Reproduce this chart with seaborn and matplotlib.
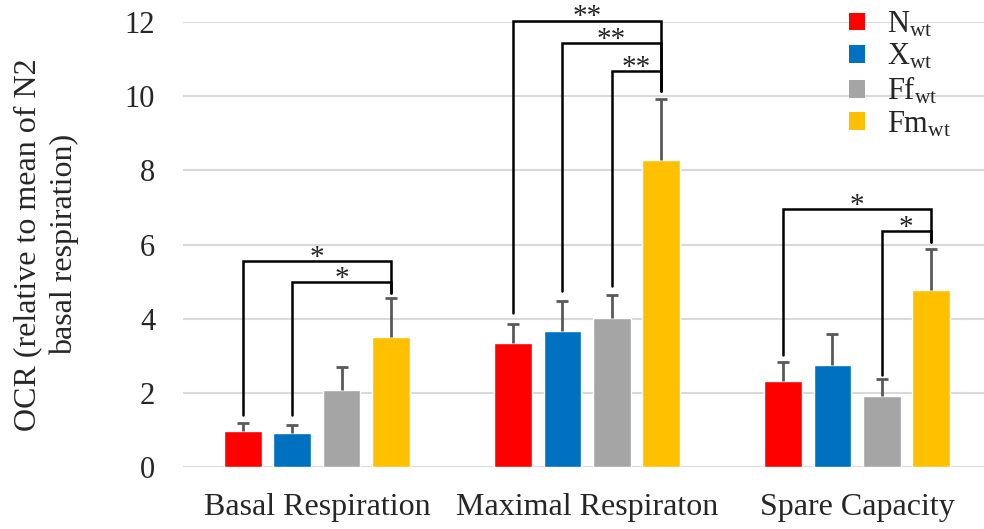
import matplotlib
matplotlib.use("Agg")
import matplotlib.pyplot as plt
import seaborn as sns
import pandas as pd
import numpy as np
from matplotlib.patches import Patch

categories = ["Basal Respiration", "Maximal Respiraton", "Spare Capacity"]
groups = ["N", "X", "Ff", "Fm"]
group_labels = [r"N$_\mathrm{wt}$", r"X$_\mathrm{wt}$", r"Ff$_\mathrm{wt}$", r"Fm$_\mathrm{wt}$"]
colors = ["#ff0000", "#0070c0", "#a5a5a5", "#ffc000"]

N_vals = [0.98, 3.34, 2.33]
X_vals = [0.92, 3.67, 2.74]
Ff_vals = [2.07, 4.01, 1.91]
Fm_vals = [3.51, 8.27, 4.76]

N_err = [0.20, 0.52, 0.49]
X_err = [0.22, 0.81, 0.86]
Ff_err = [0.62, 0.63, 0.47]
Fm_err = [1.06, 1.65, 1.13]

# significance brackets
br_cat = [0, 0, 1, 1, 1, 2, 2]
br_left = [0, 1, 0, 1, 2, 0, 2]
br_height = [5.56, 4.98, 12.04, 11.43, 10.67, 6.95, 6.36]
br_left_bottom = [1.39, 1.41, 4.14, 4.74, 4.87, 3.01, 2.49]
br_right_bottom = [4.70, 4.70, 10.15, 10.15, 10.15, 6.07, 6.07]
br_label = ["*", "*", "**", "**", "**", "*", "*"]

yticks = [0, 2, 4, 6, 8, 10, 12]

vals = [N_vals, X_vals, Ff_vals, Fm_vals]
errs = [N_err, X_err, Ff_err, Fm_err]
rows = []
for g, v in zip(groups, vals):
    for c, y in zip(categories, v):
        rows.append({"cat": c, "group": g, "val": y})
df = pd.DataFrame(rows)

sns.set_style("white")
plt.rcParams["font.family"] = ["Liberation Serif", "DejaVu Serif"]
plt.rcParams["mathtext.fontset"] = "custom"
plt.rcParams["mathtext.rm"] = "Liberation Serif"
plt.rcParams["mathtext.it"] = "Liberation Serif:italic"

fig = plt.figure(figsize=(9.84, 5.29), dpi=100)
ax = fig.add_axes([183 / 984, 62 / 529, 1 - 183 / 984, 445 / 529])

sns.barplot(data=df, x="cat", y="val", hue="group", palette=colors,
            width=0.73, gap=0.235, ax=ax, legend=False, errorbar=None,
            saturation=1, zorder=3)

bar_conts = list(ax.containers)
centers = {}
for gi, cont in enumerate(bar_conts):
    for ci, bar in enumerate(cont.patches):
        cx = bar.get_x() + bar.get_width() / 2
        top = bar.get_height()
        centers[(ci, gi)] = cx
        eb = ax.errorbar(cx, top, yerr=[[0], [errs[gi][ci]]],
                         fmt="none", ecolor="#595959", elinewidth=2,
                         capsize=4.5, capthick=2, zorder=4)
        for cap in eb[1]:
            if np.allclose(cap.get_ydata(), top):
                cap.set_visible(False)

for c, l, h, lb, rb, lab in zip(br_cat, br_left, br_height, br_left_bottom, br_right_bottom, br_label):
    x1 = centers[(c, l)]
    x2 = centers[(c, 3)]
    ax.plot([x1, x1, x2, x2], [lb, h, h, rb], color="black", lw=1.8,
            clip_on=False, zorder=5, solid_joinstyle="miter")
    ax.text((x1 + x2) / 2, h - 0.1, lab, ha="center", va="baseline",
            fontsize=21, clip_on=False, color="#222222")

ax.set_xlim(-0.496, 2.47)
ax.set_ylim(0, 12)
ax.set_yticks(yticks)
ax.set_yticklabels([str(t) for t in yticks])
ax.yaxis.grid(True, color="#d9d9d9", lw=1.5, zorder=0)
ax.set_axisbelow(True)
for s in ax.spines.values():
    s.set_visible(False)
ax.tick_params(axis="y", length=0, pad=20, labelsize=22)
ax.tick_params(axis="x", length=0, pad=19, labelsize=23)
ax.set_xlabel("")
ax.set_ylabel("OCR (relative to mean of N2\nbasal respiration)", fontsize=23,
              labelpad=33, linespacing=1.33)

handles = [Patch(facecolor=col, edgecolor="none") for col in colors]
ax.legend(handles, group_labels, loc="upper left", bbox_to_anchor=(831 / 984, 1.016),
          bbox_transform=fig.transFigure, frameon=False, fontsize=22,
          handlelength=0.52, handleheight=0.52, handletextpad=0.7,
          labelspacing=0.1, borderaxespad=0.2)

fig.savefig("out.png", dpi=100)
